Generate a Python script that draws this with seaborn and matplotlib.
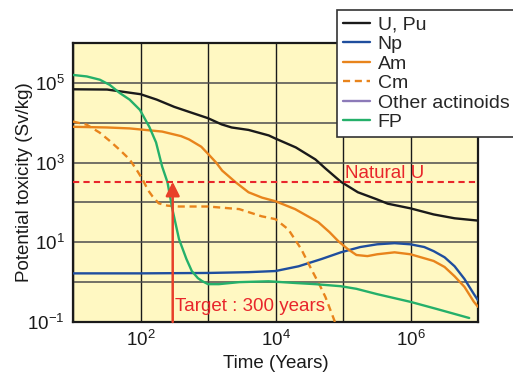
import numpy as np
import pandas as pd
import matplotlib
matplotlib.use("Agg")
from matplotlib import pyplot as plt
from matplotlib import ticker
from matplotlib.lines import Line2D
import seaborn as sns

# values: time in years, potential toxicity in Sv/kg
upu_t = [10, 32, 100, 174, 316, 562, 1000, 1585, 2240, 3980, 7940, 1e4, 2e4, 3.9e4,
         5.5e4, 9.3e4, 1.66e5, 3.16e5, 4.6e5, 1e6, 2.2e6, 4.5e6, 1e7]
upu_v = [6.9e4, 6.8e4, 5.2e4, 3.8e4, 2.5e4, 1.8e4, 1.3e4, 9.1e3, 7.6e3, 6.6e3, 4.8e3, 4.0e3,
         2.4e3, 1.2e3, 710, 330, 180, 120, 93, 71, 50, 40, 35]

np_t = [10, 100, 1000, 3980, 1e4, 2.2e4, 4.8e4, 9.3e4, 1.8e5, 3.2e5, 5.8e5, 1e6, 1.6e6,
        2.2e6, 3.2e6, 4.5e6, 6.3e6, 8.7e6, 1e7]
np_v = [1.66, 1.66, 1.7, 1.78, 1.9, 2.5, 3.8, 5.6, 7.6, 8.9, 9.5, 8.9, 7.6, 6.0, 4.2, 2.5,
        1.2, 0.5, 0.35]

am_t = [10, 32, 69, 209, 400, 525, 794, 1000, 1320, 1620, 2570, 3980, 6310, 1e4, 1.95e4,
        4.3e4, 6.3e4, 8.5e4, 1.17e5, 1.58e5, 2.3e5, 3.2e5, 5.8e5, 1e6, 2.2e6, 3.2e6, 4.5e6,
        6.3e6, 8.7e6, 1e7]
am_v = [7900, 7600, 7200, 6000, 4600, 3800, 2500, 1660, 1000, 630, 320, 180, 132, 107, 68,
        32, 18, 10.7, 6.8, 4.8, 4.5, 5.0, 5.6, 5.0, 3.4, 2.4, 1.4, 0.76, 0.32, 0.24]

cm_t = [10, 16, 25, 35, 49, 69, 89, 107, 130, 151, 186, 251, 372, 1000, 2900, 6200, 1e4,
        1.55e4, 2.4e4, 3.4e4, 4.6e4, 5.5e4, 7.6e4, 7.9e4]
cm_v = [1.07e4, 8900, 5600, 3500, 2100, 1200, 630, 380, 200, 141, 95, 83, 79, 79, 68, 45,
        38, 21, 6.8, 2.1, 0.79, 0.42, 0.1, 0.08]

fp_t = [10, 16, 25, 35, 49, 69, 98, 135, 170, 209, 251, 295, 372, 479, 575, 708, 813, 1000,
        1450, 2900, 7900, 2e4, 3.9e4, 9.3e4, 1.58e5, 3.2e5, 1e6, 2.5e6, 7.4e6]
fp_v = [1.58e5, 1.45e5, 1.2e5, 8.9e4, 5.6e4, 3.8e4, 2.1e4, 7900, 3200, 800, 320, 71, 12, 3.8,
        1.9, 1.26, 1.07, 0.89, 0.89, 1.0, 1.05, 0.95, 0.89, 0.79, 0.68, 0.5, 0.32, 0.21, 0.126]

natural_u = 330
target_year = 300
x_labelled = [2, 4, 6]        # exponents that carry a tick label
y_labelled = [-1, 1, 3, 5]

series = {"U, Pu": (upu_t, upu_v), "Np": (np_t, np_v), "Am": (am_t, am_v),
          "Cm": (cm_t, cm_v), "FP": (fp_t, fp_v)}
rows = []
for name, (t, v) in series.items():
    for a, b in zip(t, v):
        rows.append((a, b, name))
df = pd.DataFrame(rows, columns=["Time", "Toxicity", "Nuclide"])

colors = {"U, Pu": "#1a1a1a", "Np": "#1f4e9e", "Am": "#e8841c", "Cm": "#e8841c",
          "Other actinoids": "#8c7ab8", "FP": "#25b06a"}
dashes = {"U, Pu": "", "Np": "", "Am": "", "Cm": (3, 2), "FP": ""}
red = "#e8262b"

sns.set_theme(style="white")
plt.rcParams['font.family'] = ['Liberation Sans', 'DejaVu Sans']
plt.rcParams['mathtext.default'] = 'regular'

fig = plt.figure(figsize=(5.13, 3.77), dpi=100)
ax = fig.add_axes([0.1423, 0.1459, 0.7895, 0.740])
ax.set_facecolor("#fff8c2")

ax.set_xscale("log")
ax.set_yscale("log")

sns.lineplot(data=df, x="Time", y="Toxicity", hue="Nuclide", style="Nuclide",
             palette=colors, dashes=dashes, linewidth=1.7, legend=False, ax=ax,
             estimator=None, sort=False, zorder=3)

ax.set_xlim(10, 1e7)
ax.set_ylim(0.1, 1e6)

#natural uranium level and target arrow
ax.axhline(natural_u, color=red, linestyle=(0, (3, 2)), linewidth=1.5, zorder=4)
ax.text(1.07e5, 400, "Natural U", color=red, fontsize=13.5, va="baseline", zorder=5)
ax.annotate("", xy=(target_year, natural_u), xytext=(target_year, 0.1),
            arrowprops=dict(arrowstyle="-|>", color="#e8402a", lw=1.8,
                            mutation_scale=21, shrinkA=0, shrinkB=0), zorder=5)
ax.text(target_year * 1.08, 0.19, "Target : 300 years", color=red, fontsize=13.5,
        va="baseline", zorder=5)

#ticks and grid, every decade gridded, every other one labelled
ax.xaxis.set_major_locator(ticker.LogLocator(base=10, numticks=20))
ax.yaxis.set_major_locator(ticker.LogLocator(base=10, numticks=20))
ax.xaxis.set_minor_locator(ticker.LogLocator(base=10, subs=np.arange(2, 10), numticks=20))
ax.yaxis.set_minor_locator(ticker.LogLocator(base=10, subs=np.arange(2, 10), numticks=20))
ax.xaxis.set_minor_formatter(ticker.NullFormatter())
ax.yaxis.set_minor_formatter(ticker.NullFormatter())
ax.xaxis.set_major_formatter(ticker.FuncFormatter(
    lambda v, p: "$10^{%d}$" % round(np.log10(v)) if round(np.log10(v)) in x_labelled else ""))
ax.yaxis.set_major_formatter(ticker.FuncFormatter(
    lambda v, p: "$10^{%d}$" % round(np.log10(v)) if round(np.log10(v)) in y_labelled else ""))
ax.tick_params(which="major", length=0, labelsize=13.5, pad=6, colors="#1a1a1a")
ax.tick_params(which="minor", direction="in", length=3, width=0.8, color="#1a1a1a")
ax.grid(True, which="major", axis="x", color="#1a1a1a", linewidth=1.0)
ax.grid(True, which="major", axis="y", color="#4d4d4d", linewidth=1.1)
for s in ax.spines.values():
    s.set_color("#1a1a1a")
    s.set_linewidth(1.6)

ax.set_xlabel("Time (Years)", fontsize=13.5, color="#1a1a1a")
ax.set_ylabel("Potential toxicity (Sv/kg)", fontsize=13.5, color="#1a1a1a")
ax.xaxis.set_label_coords(0.5, -0.118)
ax.yaxis.set_label_coords(-0.098, 0.5)

#legend, including the actinoid entry that stays under the bottom of the chart
handles = [Line2D([], [], color=colors[n], linewidth=1.7,
                  linestyle=(0, (3, 2)) if n == "Cm" else "-")
           for n in ["U, Pu", "Np", "Am", "Cm", "Other actinoids", "FP"]]
labels = ["U, Pu", "Np", "Am", "Cm", "Other actinoids", "FP"]
leg = fig.legend(handles, labels, loc="upper left", bbox_to_anchor=(337 / 513, 1 - 10 / 377),
                 bbox_transform=fig.transFigure, fontsize=14, frameon=True, fancybox=False,
                 framealpha=1, edgecolor="#333333", borderpad=0.3, labelspacing=0.1,
                 handlelength=1.4, handletextpad=0.4, borderaxespad=0)
leg.get_frame().set_linewidth(1.2)
leg.set_zorder(10)

fig.savefig("out.png", dpi=100)
